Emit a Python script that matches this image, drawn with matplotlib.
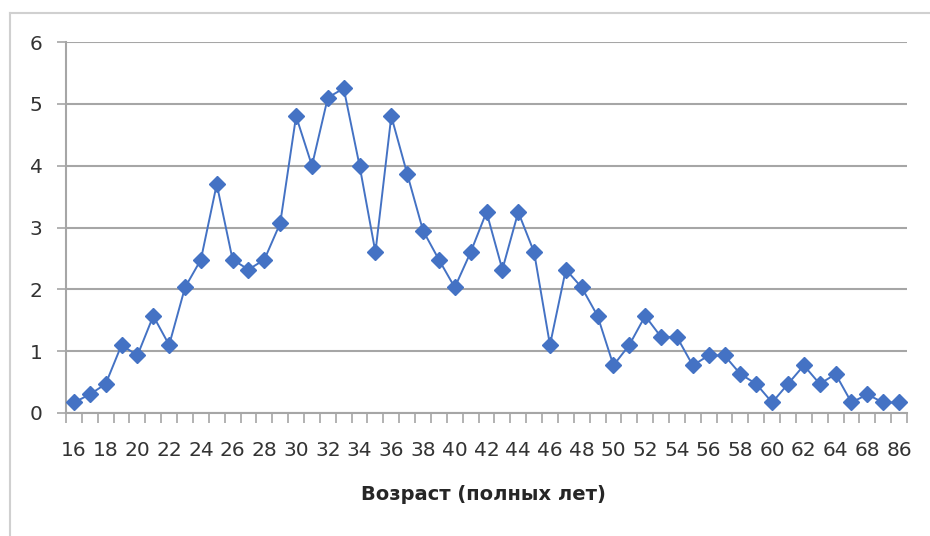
import numpy as np
import matplotlib
matplotlib.use("Agg")
import matplotlib.pyplot as plt
from matplotlib.lines import Line2D

ages = [str(a) for a in range(16, 66)] + ["68", "70", "86"]
values = [0.17, 0.30, 0.47, 1.10, 0.93, 1.57, 1.10, 2.03, 2.48, 3.70,
          2.48, 2.32, 2.48, 3.07, 4.80, 4.00, 5.10, 5.25, 4.00, 2.60,
          4.80, 3.87, 2.95, 2.48, 2.03, 2.60, 3.25, 2.32, 3.25, 2.60,
          1.10, 2.32, 2.03, 1.57, 0.77, 1.10, 1.57, 1.23, 1.23, 0.77,
          0.93, 0.93, 0.63, 0.47, 0.17, 0.47, 0.77, 0.47, 0.63, 0.17,
          0.30, 0.17, 0.17]
shown_labels = ["16", "18", "20", "22", "24", "26", "28", "30", "32", "34",
                "36", "38", "40", "42", "44", "46", "48", "50", "52", "54",
                "56", "58", "60", "62", "64", "68", "86"]
y_ticks = [0, 1, 2, 3, 4, 5, 6]
xlabel = "Возраст (полных лет)"

W, H = 930, 536
fig = plt.figure(figsize=(W / 100, H / 100), dpi=100)
plt.rcParams['font.family'] = ['DejaVu Sans']

# outer border
fig.add_artist(Line2D([10 / W, 10 / W], [0, 1 - 13 / H], transform=fig.transFigure,
                      color="#D0D0D0", lw=1.5))
fig.add_artist(Line2D([10 / W, 1], [1 - 13 / H, 1 - 13 / H], transform=fig.transFigure,
                      color="#D0D0D0", lw=1.5))

L, R, T, B = 66, 907, 42, 413
ax = fig.add_axes([L / W, 1 - B / H, (R - L) / W, (B - T) / H])

x = np.arange(len(values))
ax.plot(x, values, color="#4472C4", lw=1.4, marker="D", markersize=8.5,
        markerfacecolor="#4472C4", markeredgecolor="#4472C4", zorder=3, clip_on=False)

ax.set_xlim(-0.5, len(values) - 0.5)
ax.set_ylim(0, 6)
ax.set_yticks(y_ticks)
ax.set_yticklabels([str(v) for v in y_ticks], fontsize=14.5, color="#333333")
ax.yaxis.grid(True, color="#A6A6A6", lw=1.5)
ax.set_axisbelow(True)

# category boundary ticks
ax.set_xticks(np.arange(-0.5, len(values)), minor=False)
ax.set_xticklabels([])
label_pos = [ages.index(s) for s in shown_labels]
ax.set_xticks(label_pos, minor=True)
ax.set_xticklabels(shown_labels, minor=True, fontsize=14.5, color="#333333")
ax.tick_params(axis="x", which="major", length=7, width=1.2, color="#A6A6A6", direction="out")
ax.tick_params(axis="x", which="minor", length=0, pad=20)
ax.tick_params(axis="y", length=6.5, width=1.2, color="#A6A6A6", pad=10.5)

for s in ["top", "right"]:
    ax.spines[s].set_visible(False)
for s in ["left", "bottom"]:
    ax.spines[s].set_color("#A6A6A6")
    ax.spines[s].set_linewidth(1.5)

fig.text(483 / W, 1 - 494 / H, xlabel, ha="center", va="center",
         fontsize=14, fontweight="bold", color="#262626")

fig.savefig("out.png", dpi=100)
